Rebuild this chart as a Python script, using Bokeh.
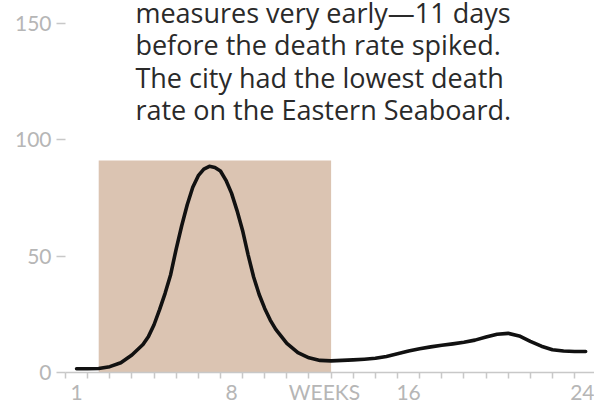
from bokeh.plotting import figure
from bokeh.models import FixedTicker, Range1d
from bokeh.core.properties import value
from bokeh.embed import file_html
from bokeh.resources import INLINE

# ---- data ----
weeks = [1, 1.5, 2, 2.5, 3, 3.5, 4, 4.25, 4.5, 4.75, 5, 5.25, 5.5, 5.75, 6, 6.25,
         6.5, 6.75, 7, 7.25, 7.5, 7.75, 8, 8.25, 8.5, 8.75, 9, 9.25, 9.5, 9.75,
         10, 10.25, 10.5, 11, 11.5, 12, 12.5, 13, 13.5, 14, 14.5, 15, 15.5, 16,
         16.5, 17, 17.5, 18, 18.5, 19, 19.5, 20, 20.5, 21, 21.5, 22, 22.5, 23,
         23.5, 24]
death_rate = [1.6, 1.6, 1.7, 2.5, 4.2, 7.5, 12, 15.5, 20.5, 27, 34, 42, 53, 63,
              72, 79.5, 84.5, 87.3, 88.5, 88, 86.5, 82.5, 77, 69.5, 61, 50.5, 41,
              33.5, 27.5, 22.5, 18.5, 15.5, 12.5, 8.5, 6.3, 5.2, 5.0, 5.2, 5.4,
              5.7, 6.1, 6.9, 8.0, 9.2, 10.2, 11.0, 11.7, 12.3, 13.0, 13.9, 15.2,
              16.4, 16.8, 15.7, 13.4, 11.3, 9.8, 9.2, 9.0, 9.0]
measures_start = 2
measures_end = 12.5
measures_top = 91

y_ticks = [0, 50, 100, 150]
x_label_ticks = [1, 8, 12.2, 16, 24]
x_label_text = ["1", "8", "WEEKS", "16", "24"]
week_boundaries = [w + 0.5 for w in range(0, 25)]

note_lines = [
    "measures very early\u201411 days",
    "before the death rate spiked.",
    "The city had the lowest death",
    "rate on the Eastern Seaboard.",
]

TEXT_FONT = "Open Sans"
TICK_FONT = "Lato"
LABEL_COLOR = "#b6b6b6"
AXIS_COLOR = "#c8c8c8"

p = figure(width=594, height=406, output_backend="svg", toolbar_location=None,
           x_range=Range1d(0.5, 24.4), y_range=Range1d(0, 159.7),
           min_border_left=65, min_border_right=0, min_border_top=0,
           min_border_bottom=34)
p.outline_line_color = None
p.grid.visible = False
p.background_fill_color = "white"
p.border_fill_color = "white"

# shaded period
p.quad(left=[measures_start], right=[measures_end], bottom=[0], top=[measures_top],
       fill_color="#dbc4b2", line_color=None)

# curve
p.line(weeks, death_rate, line_color="#111111", line_width=3.6,
       line_cap="round", line_join="round")

# annotation text
step = 13.9
y0 = 154.6
for i, t in enumerate(note_lines):
    p.text(x=[3.66], y=[y0 - i * step], text=[t], text_font=value(TEXT_FONT),
           text_font_size="27px", text_color="#2a2a2a",
           text_baseline="alphabetic", text_align="left")

# y axis
ya = p.yaxis[0]
ya.ticker = FixedTicker(ticks=y_ticks, minor_ticks=[])
ya.axis_line_color = None
ya.major_tick_out = 9
ya.major_tick_in = 0
ya.major_tick_line_color = AXIS_COLOR
ya.major_tick_line_width = 1.5
ya.major_label_standoff = 5
ya.major_label_text_font = TICK_FONT
ya.major_label_text_font_size = "21px"
ya.major_label_text_color = LABEL_COLOR

# x axis
xa = p.xaxis[0]
xa.ticker = FixedTicker(ticks=x_label_ticks, minor_ticks=week_boundaries)
xa.major_label_overrides = {k: v for k, v in zip(x_label_ticks, x_label_text)}
xa.axis_line_color = AXIS_COLOR
xa.axis_line_width = 1.5
xa.major_tick_out = 0
xa.major_tick_in = 0
xa.minor_tick_out = 6
xa.minor_tick_in = 0
xa.minor_tick_line_color = AXIS_COLOR
xa.minor_tick_line_width = 1.5
xa.major_label_standoff = 0
xa.major_label_text_font = TICK_FONT
xa.major_label_text_font_size = "21px"
xa.major_label_text_color = LABEL_COLOR

open("out.html", "w").write(file_html(p, INLINE))
